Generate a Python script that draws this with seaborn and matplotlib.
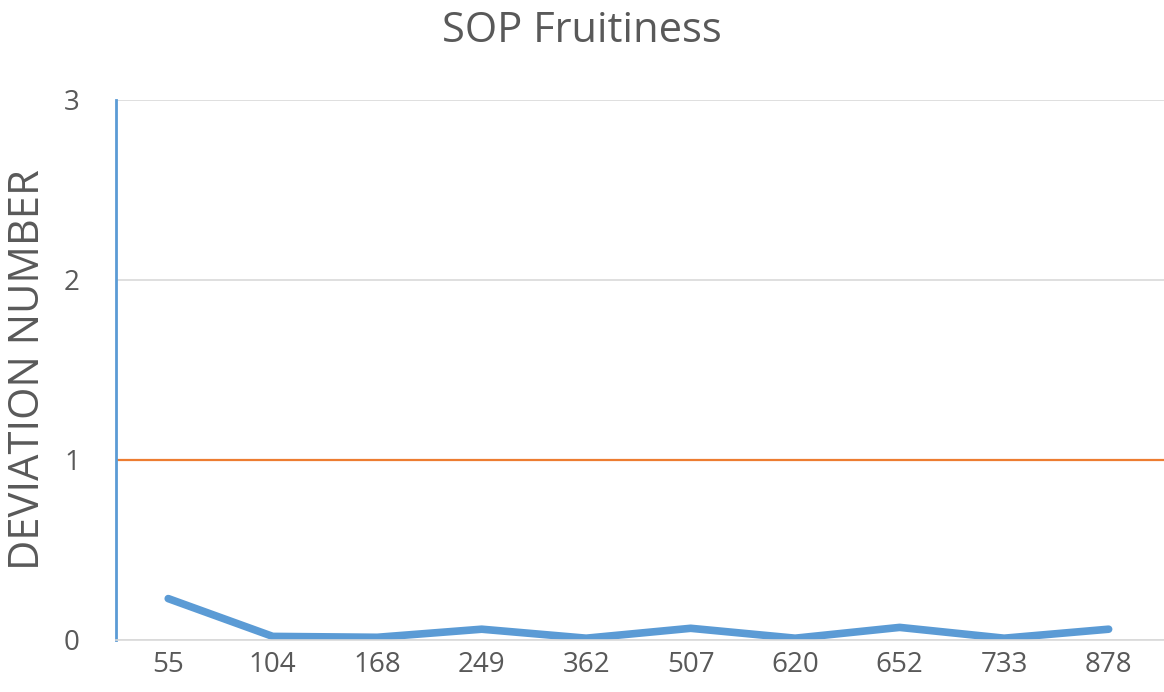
import pandas as pd
import numpy as np
import matplotlib.pyplot as plt
import seaborn as sns

samples = ["55", "104", "168", "249", "362", "507", "620", "652", "733", "878"]
deviation = [0.23, 0.02, 0.015, 0.06, 0.01, 0.065, 0.01, 0.07, 0.01, 0.06]
limit_value = 1

df = pd.DataFrame({"sample": samples, "deviation": deviation})

sns.set_style("white")
plt.rcParams['font.family'] = ['Open Sans', 'DejaVu Sans']

fig = plt.figure(figsize=(11.64, 6.92), dpi=100)
ax = fig.add_axes([116/1164, 52/692, 1048/1164, 540/692])

ax.axhline(limit_value, color="#ED7D31", linewidth=1.6)
sns.lineplot(x="sample", y="deviation", data=df, color="#5B9BD5", linewidth=5.5,
             solid_capstyle="round", ax=ax)

ax.set_xlim(-0.5, 9.53)
ax.set_ylim(0, 3)
ax.set_yticks([0, 1, 2, 3])
ax.yaxis.grid(True, color="#D9D9D9", linewidth=1.2)
ax.set_axisbelow(True)

for s in ["top", "right"]:
    ax.spines[s].set_visible(False)
ax.spines["bottom"].set_color("#D9D9D9")
ax.spines["bottom"].set_linewidth(1.2)
ax.spines["left"].set_color("#5B9BD5")
ax.spines["left"].set_linewidth(2)

ax.tick_params(axis="x", length=0, labelsize=20, colors="#595959", pad=8)
ax.tick_params(axis="y", length=0, labelsize=20, colors="#595959", pad=26)
ax.set_xlabel("")
ax.set_ylabel("DEVIATION NUMBER", fontsize=30, color="#595959")
ax.yaxis.set_label_coords(-0.064, 0.5)
fig.suptitle("SOP Fruitiness", fontsize=30, color="#595959", y=0.985)

fig.savefig("out.png", dpi=100)
